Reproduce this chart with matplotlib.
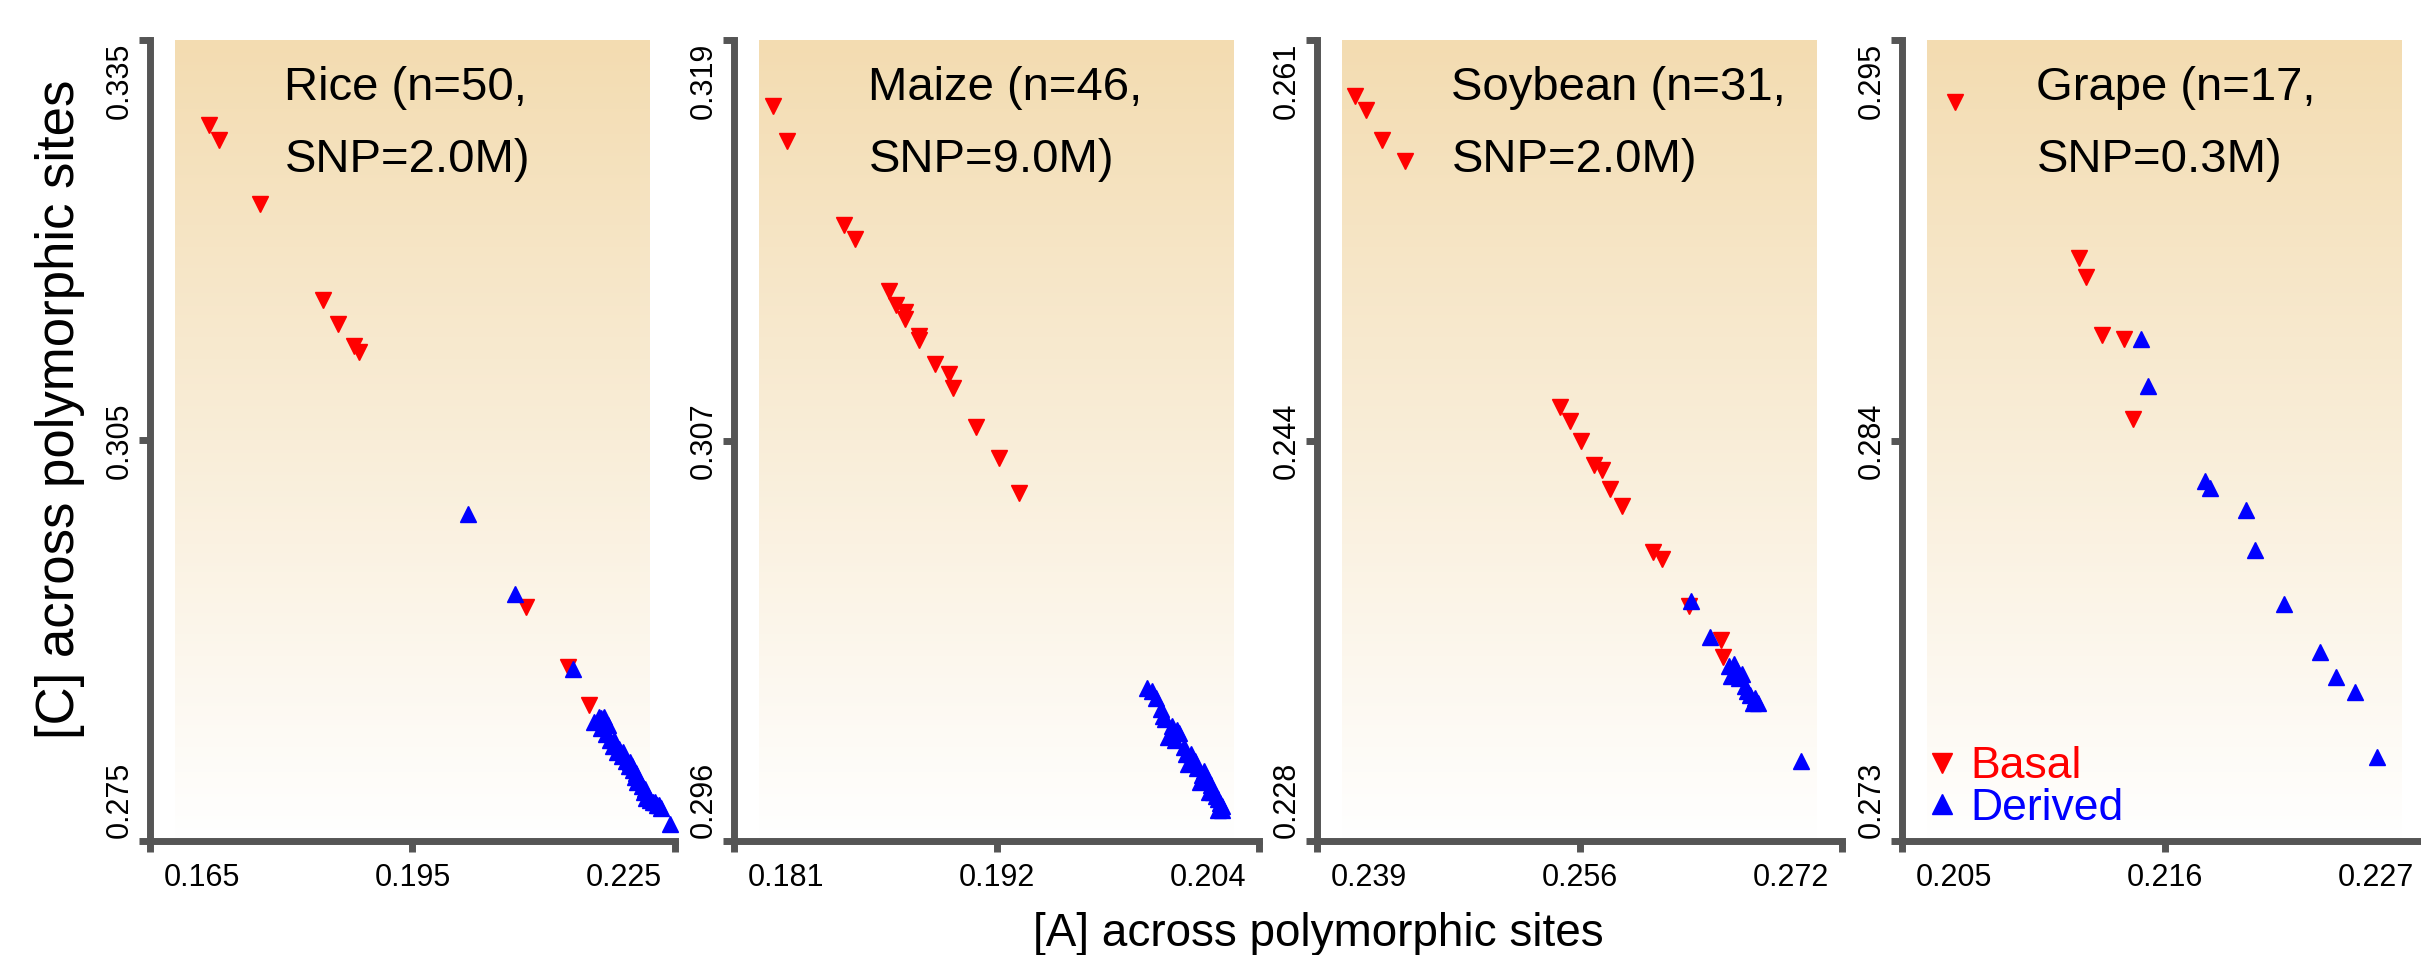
import numpy as np
import matplotlib
matplotlib.use("Agg")
import matplotlib.pyplot as plt
from matplotlib.colors import LinearSegmentedColormap
from matplotlib.lines import Line2D

plt.rcParams['font.family'] = ['Liberation Sans', 'DejaVu Sans']

# panel titles
species = ["Rice", "Maize", "Soybean", "Grape"]
sample_n = [50, 46, 31, 17]
snp_m = ["2.0", "9.0", "2.0", "0.3"]

# axis ranges (ends of the axis) and printed tick labels
x_lims = [(0.165, 0.225), (0.181, 0.204), (0.239, 0.272), (0.205, 0.227)]
y_lims = [(0.275, 0.335), (0.296, 0.319), (0.228, 0.261), (0.273, 0.295)]
x_labels = [["0.165", "0.195", "0.225"], ["0.181", "0.192", "0.204"],
            ["0.239", "0.256", "0.272"], ["0.205", "0.216", "0.227"]]
y_labels = [["0.275", "0.305", "0.335"], ["0.296", "0.307", "0.319"],
            ["0.228", "0.244", "0.261"], ["0.273", "0.284", "0.295"]]

# Rice
rice_basal_x = [0.1718, 0.1729, 0.1776, 0.1848, 0.1865, 0.1883, 0.1889, 0.2080, 0.2128, 0.2152]
rice_basal_y = [0.3286, 0.3275, 0.3227, 0.3155, 0.3137, 0.3121, 0.3116, 0.2925, 0.2880, 0.2852]
rice_derived_x = [0.2013, 0.2067, 0.2133,
                  0.2158, 0.2163, 0.2166, 0.2169, 0.2166, 0.2171, 0.2174, 0.2176, 0.2179, 0.2182,
                  0.2184, 0.2189, 0.2191, 0.2194, 0.2197, 0.2199, 0.2202, 0.2204, 0.2206, 0.2207,
                  0.2212, 0.2214, 0.2216, 0.2217, 0.2222, 0.2225, 0.2227, 0.2230, 0.2232, 0.2234,
                  0.2171, 0.2186, 0.2209, 0.2219, 0.2180, 0.2201, 0.2244]
rice_derived_y = [0.2995, 0.2935, 0.2879,
                  0.2839, 0.2843, 0.2842, 0.2843, 0.2835, 0.2830, 0.2837, 0.2826, 0.2821, 0.2823,
                  0.2817, 0.2814, 0.2817, 0.2810, 0.2806, 0.2809, 0.2803, 0.2798, 0.2801, 0.2794,
                  0.2791, 0.2787, 0.2789, 0.2782, 0.2781, 0.2779, 0.2779, 0.2777, 0.2777, 0.2775,
                  0.2838, 0.2819, 0.2796, 0.2784, 0.2826, 0.2806, 0.2763]

# Maize
maize_basal_x = [0.1827, 0.1833, 0.1858, 0.1863, 0.1878, 0.1881, 0.1885, 0.1885, 0.1891, 0.1891,
                 0.1898, 0.1904, 0.1906, 0.1916, 0.1926, 0.1935]
maize_basal_y = [0.3171, 0.3161, 0.3137, 0.3133, 0.3118, 0.3114, 0.3112, 0.3110, 0.3105, 0.3104,
                 0.3097, 0.3094, 0.3090, 0.3079, 0.3070, 0.3060]
maize_derived_x = [0.1991, 0.1993, 0.1995, 0.1997, 0.1998, 0.1999, 0.2002, 0.2004, 0.2005, 0.2000,
                   0.2003, 0.2007, 0.2008, 0.2010, 0.2012, 0.2009, 0.2013, 0.2015, 0.2014, 0.2017,
                   0.2019, 0.2018, 0.2020, 0.2021, 0.2022, 0.2023, 0.2024, 0.2022, 0.2024, 0.2016]
maize_derived_y = [0.3004, 0.3003, 0.3001, 0.2998, 0.2996, 0.2995, 0.2993, 0.2992, 0.2991, 0.2990,
                   0.2989, 0.2987, 0.2985, 0.2985, 0.2983, 0.2982, 0.2981, 0.2979, 0.2977, 0.2978,
                   0.2976, 0.2974, 0.2974, 0.2973, 0.2972, 0.2971, 0.2970, 0.2969, 0.2969, 0.2980]

# Soybean
soy_basal_x = [0.2414, 0.2421, 0.2431, 0.2445, 0.2543, 0.2549, 0.2556, 0.2564, 0.2569, 0.2574,
               0.2582, 0.2601, 0.2607, 0.2624, 0.2644, 0.2645]
soy_basal_y = [0.2587, 0.2581, 0.2569, 0.2560, 0.2459, 0.2453, 0.2445, 0.2435, 0.2433, 0.2425,
               0.2418, 0.2399, 0.2396, 0.2377, 0.2363, 0.2356]
soy_derived_x = [0.2625, 0.2637, 0.2649, 0.2652, 0.2654, 0.2657, 0.2650, 0.2655, 0.2659, 0.2660,
                 0.2662, 0.2665, 0.2667, 0.2664, 0.2694]
soy_derived_y = [0.2379, 0.2364, 0.2352, 0.2353, 0.2350, 0.2349, 0.2348, 0.2347, 0.2344, 0.2342,
                 0.2340, 0.2339, 0.2337, 0.2337, 0.2313]

# Grape
grape_basal_x = [0.2072, 0.2124, 0.2127, 0.2134, 0.2143, 0.2147]
grape_basal_y = [0.2933, 0.2890, 0.2885, 0.2869, 0.2868, 0.2846]
grape_derived_x = [0.2150, 0.2153, 0.2177, 0.2179, 0.2194, 0.2198, 0.2210, 0.2225, 0.2232, 0.2240, 0.2249]
grape_derived_y = [0.2868, 0.2855, 0.2829, 0.2827, 0.2821, 0.2810, 0.2795, 0.2782, 0.2775, 0.2771, 0.2753]

basal = [(rice_basal_x, rice_basal_y), (maize_basal_x, maize_basal_y),
         (soy_basal_x, soy_basal_y), (grape_basal_x, grape_basal_y)]
derived = [(rice_derived_x, rice_derived_y), (maize_derived_x, maize_derived_y),
           (soy_derived_x, soy_derived_y), (grape_derived_x, grape_derived_y)]

W, H = 2421, 955
fig = plt.figure(figsize=(W / 100, H / 100), dpi=100)

axis_col = '#555555'
bg_cmap = LinearSegmentedColormap.from_list('wheat_fade', ['#FFFFFF', '#F3DCB1'])
grad = np.linspace(1, 0, 256)[:, None]

panel_left_px = [150, 734, 1317, 1902]
ax_w_px, ax_h_px, ax_top_px = 525, 801, 40

for i in range(4):
    left = panel_left_px[i] / W
    bottom = (H - ax_top_px - ax_h_px) / H
    ax = fig.add_axes([left, bottom, ax_w_px / W, ax_h_px / H])

    # background gradient
    ax.imshow(grad, cmap=bg_cmap, aspect='auto', origin='upper',
              extent=[0.048, 0.952, 0.0, 0.999], transform=ax.transAxes, zorder=0)

    bx, by = basal[i]
    dx_, dy_ = derived[i]
    ax.plot(bx, by, ls='none', marker='v', ms=12, color='red', mec='red', mew=1,
            clip_on=False, zorder=3)
    ax.plot(dx_, dy_, ls='none', marker='^', ms=12, color='blue', mec='blue', mew=1,
            clip_on=False, zorder=4)

    x0, x1 = x_lims[i]
    y0, y1 = y_lims[i]
    ax.set_xlim(x0, x1)
    ax.set_ylim(y0, y1)
    xt = [x0, (x0 + x1) / 2, x1]
    yt = [y0, (y0 + y1) / 2, y1]
    ax.set_xticks(xt)
    ax.set_yticks(yt)
    ax.tick_params(length=8, width=5, color=axis_col, labelbottom=False, labelleft=False)

    for s in ['top', 'right']:
        ax.spines[s].set_visible(False)
    for s in ['left', 'bottom']:
        ax.spines[s].set_color(axis_col)
        ax.spines[s].set_linewidth(5)

    # tick labels placed R-style: ends pulled inward
    for val, lab, ha, off in zip(xt, x_labels[i], ['left', 'center', 'right'], [10, 0, -9.5]):
        ax.annotate(lab, xy=(val, 0), xycoords=('data', 'axes fraction'),
                    xytext=(off, -16), textcoords='offset points',
                    ha=ha, va='top', fontsize=22)
    for val, lab, va, off in zip(yt, y_labels[i], ['bottom', 'center', 'top'], [2, 0, -2]):
        ax.annotate(lab, xy=(0, val), xycoords=('axes fraction', 'data'),
                    xytext=(-11, off), textcoords='offset points',
                    ha='right', va=va, rotation=90, fontsize=22)

    ax.text(0.256, 0.9245, f"{species[i]} (n={sample_n[i]},", transform=ax.transAxes,
            fontsize=34, ha='left', va='baseline')
    ax.text(0.256, 0.8347, f"SNP={snp_m[i]}M)", transform=ax.transAxes,
            fontsize=34, ha='left', va='baseline')

    if i == 3:
        handles = [Line2D([], [], ls='none', marker='v', ms=15, color='red'),
                   Line2D([], [], ls='none', marker='^', ms=15, color='blue')]
        ax.legend(handles, ['Basal', 'Derived'], loc='lower left',
                  bbox_to_anchor=(0.042, 0.015), frameon=False, fontsize=32,
                  labelcolor=['red', 'blue'], handlelength=0.8, handletextpad=0.25,
                  labelspacing=0.02, borderpad=0, borderaxespad=0, numpoints=1)

fig.text(60 / W, 1 - 409 / H, "[C] across polymorphic sites", rotation=90,
         ha='center', va='center', fontsize=38)
fig.text(1318 / W, 1 - 946 / H, "[A] across polymorphic sites",
         ha='center', va='baseline', fontsize=33)

fig.savefig('out.png', dpi=100)
